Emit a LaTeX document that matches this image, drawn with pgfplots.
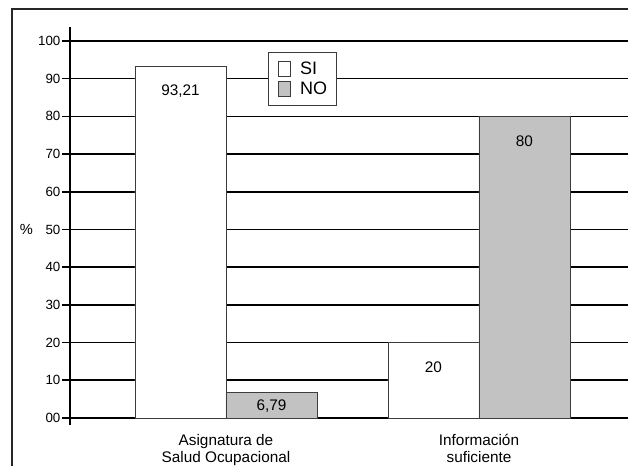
\documentclass[border=0pt]{standalone}
\usepackage{fontspec}
\setmainfont{Liberation Sans}
\usepackage{pgfplots}
\pgfplotsset{compat=1.18}
\definecolor{barGray}{RGB}{194,194,194}
\definecolor{edgeGray}{RGB}{60,60,60}

\begin{document}
\begin{tikzpicture}
\begin{axis}[
    scale only axis,
    width=418.5pt, height=298.5pt,
    ybar=0pt, bar width=68.25pt,
    xmin=-0.6166, xmax=1.589,
    ymin=-1.86, ymax=103.7,
    axis y line*=left, axis x line*=bottom,
    x axis line style={draw=none},
    y axis line style={black, line width=1.2pt},
    xtick={0,1},
    xticklabels={Asignatura de\\Salud Ocupacional, Información\\suficiente},
    xticklabel style={align=center, font=\fontsize{11.5}{12.5}\selectfont, yshift=2.5pt},
    xtick style={draw=none},
    ytick={0,10,20,30,40,50,60,70,80,90,100},
    yticklabels={00,10,20,30,40,50,60,70,80,90,100},
    yticklabel style={font=\fontsize{10}{12}\selectfont, inner sep=1pt},
    ytick style={black, line width=1.2pt},
    tick align=outside, major tick length=6pt,
    ymajorgrids, major grid style={black, line width=1.2pt},
    ylabel={\%}, ylabel style={rotate=-90, anchor=east, font=\fontsize{11}{12}\selectfont,
        at={(axis description cs:-0.058,0.491)}},
    /pgf/number format/.cd, use comma, fixed, precision=2, assume math mode=true,
    /pgfplots/.cd,
    visualization depends on={y \as \rawy},
    nodes near coords,
    every node near coord/.append style={anchor=center, black,
        font=\fontsize{11.5}{12}\selectfont,
        yshift={\rawy<10 ? -10.5pt : -18.5pt}},
    legend style={at={(0.355,0.937)}, anchor=north west, draw=edgeGray,
        line width=0.7pt, font=\fontsize{13.5}{14}\selectfont,
        inner xsep=5pt, inner ysep=5pt, row sep=0pt,
        nodes={inner sep=2pt}},
    legend cell align=left,
    legend image code/.code={%
        \draw[#1, line width=0.6pt] (0pt,-5.5pt) rectangle (9.25pt,5.5pt);
        \path (-2pt,0pt) (14pt,0pt);},
]
\addplot[fill=white, draw=edgeGray, line width=0.6pt] coordinates {(0,93.21) (1,20)};
\addplot[fill=barGray, draw=edgeGray, line width=0.6pt] coordinates {(0,6.79) (1,80)};
\legend{SI, NO}
\end{axis}
\draw[line width=1.5pt, black!85] (-43.5pt,-100pt) rectangle (520pt,312pt);
\pgfresetboundingbox
\useasboundingbox (-52.5pt,-30.75pt) rectangle (418.5pt,318.75pt);
\end{tikzpicture}
\end{document}
